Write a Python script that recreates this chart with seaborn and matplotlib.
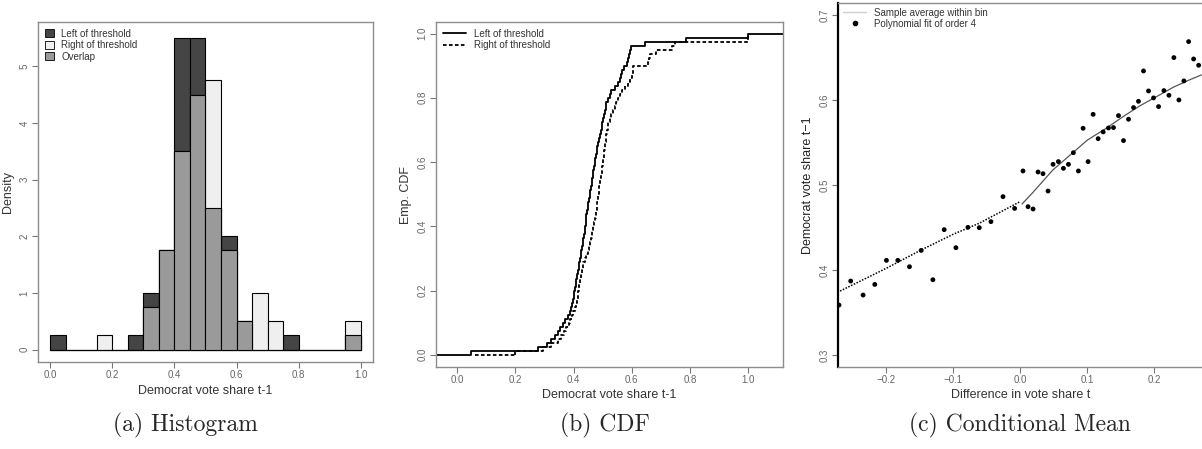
import numpy as np
import pandas as pd
import matplotlib
matplotlib.use("Agg")
import matplotlib.pyplot as plt
import seaborn as sns
from matplotlib.patches import Patch
from matplotlib.lines import Line2D

# --- data ---
# (a) histogram, bins of width 0.05 from 0 to 1, density per bin
bin_edges = [round(0.05 * i, 2) for i in range(21)]
left_density = [0.25, 0, 0, 0, 0, 0.25, 1.0, 1.75, 5.5, 5.5,
                2.5, 2.0, 0.5, 0, 0, 0.25, 0, 0, 0, 0.25]
right_density = [0, 0, 0, 0.25, 0, 0, 0.75, 1.75, 3.5, 4.5,
                 4.75, 1.75, 0.5, 1.0, 0.5, 0, 0, 0, 0, 0.5]

# (b) vote shares behind the empirical CDFs
left_share = [0.049, 0.279, 0.307, 0.322, 0.335, 0.346, 0.352, 0.362, 0.371, 0.380,
              0.386, 0.391, 0.394, 0.398, 0.401, 0.403, 0.405, 0.407, 0.409, 0.412,
              0.415, 0.417, 0.419, 0.422, 0.425, 0.427, 0.430, 0.432, 0.434, 0.436,
              0.438, 0.440, 0.441, 0.443, 0.444, 0.446, 0.449, 0.451, 0.454, 0.456,
              0.458, 0.460, 0.462, 0.464, 0.466, 0.468, 0.470, 0.472, 0.474, 0.476,
              0.479, 0.481, 0.484, 0.487, 0.490, 0.493, 0.496, 0.499, 0.502, 0.505,
              0.508, 0.511, 0.513, 0.518, 0.524, 0.530, 0.542, 0.553, 0.558, 0.563,
              0.568, 0.575, 0.582, 0.586, 0.589, 0.593, 0.596, 0.645, 0.788, 1.000]
right_share = [0.198, 0.296, 0.324, 0.345, 0.356, 0.366, 0.375, 0.383, 0.387, 0.393,
               0.399, 0.404, 0.408, 0.411, 0.414, 0.416, 0.418, 0.420, 0.421, 0.424,
               0.428, 0.431, 0.434, 0.439, 0.443, 0.448, 0.452, 0.456, 0.459, 0.462,
               0.465, 0.468, 0.471, 0.473, 0.476, 0.478, 0.480, 0.482, 0.484, 0.485,
               0.487, 0.489, 0.490, 0.492, 0.494, 0.496, 0.498, 0.500, 0.502, 0.503,
               0.505, 0.507, 0.509, 0.511, 0.513, 0.515, 0.517, 0.519, 0.524, 0.530,
               0.536, 0.542, 0.547, 0.552, 0.558, 0.565, 0.576, 0.588, 0.595, 0.601,
               0.603, 0.606, 0.655, 0.660, 0.664, 0.685, 0.737, 0.750, 0.998, 1.000]

# (c) bin averages
bin_x = [-0.2705, -0.253, -0.2345, -0.217, -0.1996, -0.1826, -0.1652, -0.1477, -0.1302,
         -0.1133, -0.0958, -0.0778, -0.0609, -0.0434, -0.0254, -0.008,
         0.0045, 0.012, 0.0195, 0.027, 0.0344, 0.0419, 0.0494, 0.0574, 0.0649, 0.0724,
         0.0798, 0.0873, 0.0943, 0.1018, 0.1093, 0.1168, 0.1243, 0.1322, 0.1397, 0.1472,
         0.1547, 0.1622, 0.1697, 0.1771, 0.1846, 0.1921, 0.1996, 0.2071, 0.2151, 0.2226,
         0.23, 0.2375, 0.245, 0.252, 0.2595, 0.267]
bin_y = [0.3588, 0.3871, 0.3706, 0.3831, 0.4114, 0.4114, 0.4039, 0.4231, 0.3886,
         0.4475, 0.4263, 0.4502, 0.4498, 0.4569, 0.4863, 0.4725,
         0.5165, 0.4745, 0.4718, 0.5153, 0.5133, 0.4929, 0.5243, 0.5275, 0.5196, 0.5243,
         0.538, 0.5165, 0.5667, 0.5275, 0.5831, 0.5545, 0.5624, 0.5671, 0.5675, 0.5816,
         0.5522, 0.5773, 0.591, 0.5984, 0.6341, 0.6106, 0.6024, 0.5922, 0.611, 0.6055,
         0.6498, 0.6, 0.6224, 0.6686, 0.6482, 0.6408]
# fitted curves on each side of the threshold
fit_left_x = [-0.273, -0.2, -0.148, -0.1, -0.061, -0.031, 0.0]
fit_left_y = [0.3737, 0.402, 0.4235, 0.442, 0.455, 0.4675, 0.4804]
fit_right_x = [0.003, 0.019, 0.049, 0.079, 0.101, 0.129, 0.154, 0.179, 0.204, 0.229, 0.253, 0.271]
fit_right_y = [0.4776, 0.491, 0.5176, 0.538, 0.553, 0.5667, 0.5804, 0.593, 0.6039, 0.6149, 0.6235, 0.6294]

# --- style ---
sns.set_theme(style="white")
plt.rcParams["font.family"] = ["Liberation Sans", "DejaVu Sans"]

frame_col = "#8c8c8c"
tick_col = "#777777"
dark, light, mid = "#454545", "#efefef", "#9a9a9a"


def r_axes(ax, fontsize=7):
    for s in ax.spines.values():
        s.set_color(frame_col)
        s.set_linewidth(1.0)
    ax.tick_params(direction="out", length=4, width=0.8, color=tick_col,
                   labelsize=fontsize, labelcolor="#666666", pad=2, left=True, bottom=True)
    plt.setp(ax.get_yticklabels(), rotation=90, va="center")


fig = plt.figure(figsize=(12.02, 4.49), dpi=100)
W, H = 1202, 449
ax1 = fig.add_axes([38 / W, 1 - 362 / H, 335 / W, 340 / H])
ax2 = fig.add_axes([436 / W, 1 - 367 / H, 347 / W, 345 / H])
ax3 = fig.add_axes([838 / W, 1 - 367 / H, 366 / W, 364 / H])

# (a) histogram
centers = [(bin_edges[i] + bin_edges[i + 1]) / 2 for i in range(20)]
overlap = np.minimum(left_density, right_density)
hist_df = pd.DataFrame({"center": centers, "left": left_density,
                        "right": right_density, "overlap": overlap})
for col, fc in [("left", dark), ("right", light), ("overlap", mid)]:
    sns.histplot(data=hist_df, x="center", weights=col, bins=bin_edges, ax=ax1,
                 color=fc, alpha=1, edgecolor="black", linewidth=0.8)
ax1.set_xlim(-0.04, 1.04)
ax1.set_ylim(-0.22, 5.78)
ax1.set_xticks([0, 0.2, 0.4, 0.6, 0.8, 1.0])
ax1.set_xticklabels(["0.0", "0.2", "0.4", "0.6", "0.8", "1.0"])
ax1.set_yticks([0, 1, 2, 3, 4, 5])
ax1.set_xlabel("Democrat vote share t-1", fontsize=9, color="#333333", labelpad=3)
ax1.set_ylabel("Density", fontsize=9, color="#333333", labelpad=4)
r_axes(ax1)
hist_handles = [Patch(facecolor=c, edgecolor="black", linewidth=0.6) for c in (dark, light, mid)]
ax1.legend(hist_handles, ["Left of threshold", "Right of threshold", "Overlap"],
           loc="upper left", frameon=False, fontsize=7, handlelength=0.9, handleheight=0.9,
           handletextpad=0.8, labelspacing=0.15, borderaxespad=0.3, labelcolor="#333333")

# (b) empirical CDF
dash = (0, (2.0, 1.3))
sns.ecdfplot(x=left_share, ax=ax2, color="black", linewidth=1.3)
sns.ecdfplot(x=right_share, ax=ax2, color="black", linewidth=1.3, linestyle=dash)
ax2.set_xlim(-0.073, 1.12)
ax2.set_ylim(-0.038, 1.036)
xl = ax2.get_xlim()
ext_r = 0.17 * (max(right_share) - min(right_share))
ax2.hlines(0, xl[0], min(left_share), color="black", linewidth=1.3)
ax2.hlines(1, max(left_share), xl[1], color="black", linewidth=1.3)
ax2.hlines(0, min(right_share) - ext_r, min(right_share), color="black", linewidth=1.3, linestyle=dash)
ax2.set_xticks([0, 0.2, 0.4, 0.6, 0.8, 1.0])
ax2.set_xticklabels(["0.0", "0.2", "0.4", "0.6", "0.8", "1.0"])
ax2.set_yticks([0, 0.2, 0.4, 0.6, 0.8, 1.0])
ax2.set_yticklabels(["0.0", "0.2", "0.4", "0.6", "0.8", "1.0"])
ax2.set_xlabel("Democrat vote share t-1", fontsize=9, color="#333333", labelpad=3)
ax2.set_ylabel("Emp. CDF", fontsize=9, color="#333333", labelpad=4)
r_axes(ax2)
cdf_handles = [Line2D([], [], color="black", lw=1.3),
               Line2D([], [], color="black", lw=1.3, linestyle=dash)]
ax2.legend(cdf_handles, ["Left of threshold", "Right of threshold"], loc="upper left",
           frameon=False, fontsize=7, handlelength=2.4, labelspacing=0.15,
           borderaxespad=0.3, labelcolor="#333333")

# (c) conditional mean
sns.scatterplot(x=bin_x, y=bin_y, ax=ax3, color="black", s=12, edgecolor="none", zorder=3)
sns.lineplot(x=fit_left_x, y=fit_left_y, ax=ax3, color="black", linewidth=1.1,
             linestyle=(0, (1, 1)), sort=False)
sns.lineplot(x=fit_right_x, y=fit_right_y, ax=ax3, color="#555555", linewidth=0.9, sort=False)
ax3.set_xlim(-0.272, 0.275)
ax3.set_ylim(0.286, 0.714)
ax3.set_xticks([-0.2, -0.1, 0.0, 0.1, 0.2])
ax3.set_xticklabels(["\u22120.2", "\u22120.1", "0.0", "0.1", "0.2"])
ax3.set_yticks([0.3, 0.4, 0.5, 0.6, 0.7])
ax3.set_yticklabels(["0.3", "0.4", "0.5", "0.6", "0.7"])
ax3.set_xlabel("Difference in vote share t", fontsize=9, color="#333333", labelpad=3)
ax3.set_ylabel("Democrat vote share t\u22121", fontsize=9, color="#222222", labelpad=4)
r_axes(ax3)
ax3.spines["left"].set_color("black")
ax3.spines["left"].set_linewidth(1.6)
mean_handles = [Line2D([], [], color="#cfcfcf", lw=1.0),
                Line2D([], [], color="black", marker="o", ms=3, linestyle="none")]
ax3.legend(mean_handles, ["Sample average within bin", "Polynomial fit of order 4"],
           loc="upper left", frameon=False, fontsize=7, handlelength=2.4, labelspacing=0.1,
           borderaxespad=0.1, labelcolor="#333333")

# captions
for xc, txt in [(185, "(a) Histogram"), (605, "(b) CDF"), (1020, "(c) Conditional Mean")]:
    fig.text(xc / W, 1 - 425 / H, txt, family="cmr10", fontsize=17, ha="center", va="center")

fig.savefig("out.png", dpi=100)
